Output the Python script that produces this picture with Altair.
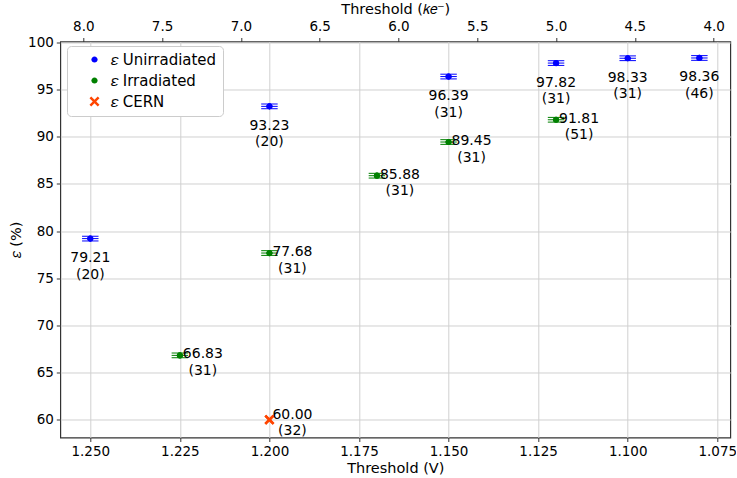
import altair as alt
import pandas as pd

# Efficiency vs. discriminator threshold, three sample groups
unirr_v = [1.250, 1.200, 1.150, 1.120, 1.100, 1.080]
unirr_eff = [79.21, 93.23, 96.39, 97.82, 98.33, 98.36]
unirr_n = [20, 20, 31, 31, 31, 46]

irr_v = [1.225, 1.200, 1.170, 1.150, 1.120]
irr_eff = [66.83, 77.68, 85.88, 89.45, 91.81]
irr_n = [31, 31, 31, 31, 51]

cern_v = [1.200]
cern_eff = [60.00]
cern_n = [32]

v_err = 0.0023
eff_err = 0.25

v_ticks = [1.250, 1.225, 1.200, 1.175, 1.150, 1.125, 1.100, 1.075]
eff_ticks = [60, 65, 70, 75, 80, 85, 90, 95, 100]
ke_ticks = [8.0, 7.5, 7.0, 6.5, 6.0, 5.5, 5.0, 4.5, 4.0]

S_UNIRR = "𝜀 Unirradiated"
S_IRR = "𝜀 Irradiated"
S_CERN = "𝜀 CERN"
series_order = [S_UNIRR, S_IRR, S_CERN]
series_colors = ["#0000ff", "#008000", "#ff4500"]

# marker glyphs in the unit square: small dot and a filled "x"
DOT_PATH = "M0.62,0A0.62,0.62,0,1,1,-0.62,0A0.62,0.62,0,1,1,0.62,0Z"
X_PATH = ("M-0.65,-1L0,-0.35L0.65,-1L1,-0.65L0.35,0L1,0.65L0.65,1L0,0.35"
          "L-0.65,1L-1,0.65L-0.35,0L-1,-0.65Z")

rows = []
for name, vs, effs, ns in [(S_UNIRR, unirr_v, unirr_eff, unirr_n),
                           (S_IRR, irr_v, irr_eff, irr_n),
                           (S_CERN, cern_v, cern_eff, cern_n)]:
    for v, e, n in zip(vs, effs, ns):
        rows.append({
            "series": name, "v": v, "eff": e, "n": n,
            "label": f"{e:.2f}\n({n})",
            "lo": v + v_err, "hi": v - v_err,
            "ylo": e - eff_err, "yhi": e + eff_err,
        })
df = pd.DataFrame(rows)

FONT = "DejaVu Sans"

x_scale = alt.Scale(domain=[1.25837, 1.07137], nice=False, zero=False)
y_scale = alt.Scale(domain=[58.125, 100.106], nice=False, zero=False)
color_scale = alt.Scale(domain=series_order, range=series_colors)
shape_scale = alt.Scale(domain=series_order, range=[DOT_PATH, DOT_PATH, X_PATH])

x_enc = alt.X("v:Q", scale=x_scale,
              axis=alt.Axis(values=v_ticks, format=".3f", title="Threshold (V)",
                            grid=True, orient="bottom"))
y_enc = alt.Y("eff:Q", scale=y_scale,
              axis=alt.Axis(values=eff_ticks, format="d", title="𝜀 (%)", grid=True))
color_nolegend = alt.Color("series:N", scale=color_scale, legend=None)

base = alt.Chart(df)
with_err = base.transform_filter(alt.datum.series != S_CERN)

# markers carrying the legend (drawn again on top of the error bars below)
points_legend = base.mark_point(filled=True, opacity=1, size=100).encode(
    x=x_enc, y=y_enc,
    color=alt.Color("series:N", scale=color_scale,
                    legend=alt.Legend(title=None, orient="none",
                                      legendX=6.7, legendY=4.5)),
    shape=alt.Shape("series:N", scale=shape_scale),
)

# horizontal error bars with short caps above and below
err_x = with_err.mark_rule(strokeWidth=1).encode(
    x=alt.X("lo:Q", scale=x_scale), x2="hi:Q",
    y=alt.Y("eff:Q", scale=y_scale), color=color_nolegend)
cap_lo = with_err.mark_rule(strokeWidth=1).encode(
    x=alt.X("lo:Q", scale=x_scale), x2="hi:Q",
    y=alt.Y("ylo:Q", scale=y_scale), color=color_nolegend)
cap_hi = with_err.mark_rule(strokeWidth=1).encode(
    x=alt.X("lo:Q", scale=x_scale), x2="hi:Q",
    y=alt.Y("yhi:Q", scale=y_scale), color=color_nolegend)

points_top = base.mark_point(filled=True, opacity=1, size=100).encode(
    x=x_enc, y=y_enc, color=color_nolegend,
    shape=alt.Shape("series:N", scale=shape_scale, legend=None),
)

text_common = dict(font=FONT, fontSize=14, lineBreak="\n", lineHeight=16.5,
                   color="black", baseline="middle", align="center")
labels_unirr = base.transform_filter(alt.datum.series == S_UNIRR).mark_text(
    dy=19.5, **text_common).encode(x=x_enc, y=y_enc, text="label:N")
labels_irr = base.transform_filter(alt.datum.series == S_IRR).mark_text(
    dx=23, dy=-1, **text_common).encode(x=x_enc, y=y_enc, text="label:N")
labels_cern = base.transform_filter(alt.datum.series == S_CERN).mark_text(
    dx=23, dy=-5, **text_common).encode(x=x_enc, y=y_enc, text="label:N")

main = alt.layer(points_legend, err_x, cap_lo, cap_hi, points_top,
                 labels_unirr, labels_irr, labels_cern)

# secondary threshold scale in electrons along the top edge
top_axis = alt.Chart(pd.DataFrame({"ke": ke_ticks})).mark_point(opacity=0).encode(
    x=alt.X("ke:Q",
            scale=alt.Scale(domain=[8.146, 3.894], nice=False, zero=False),
            axis=alt.Axis(orient="top", values=ke_ticks, format=".1f",
                          title="Threshold (𝑘𝑒⁻)", grid=False))
)

chart = alt.layer(main, top_axis).resolve_scale(x="independent").properties(
    width=670, height=396,
    autosize=alt.AutoSizeParams(type="none"),
    padding={"left": 60.3, "top": 41.5, "right": 6, "bottom": 40},
).configure_view(
    stroke="#333333", strokeWidth=1.2
).configure_axis(
    labelFont=FONT, titleFont=FONT, labelFontSize=13.5, titleFontSize=14.5,
    labelColor="black", titleColor="black", titleFontWeight="normal",
    tickColor="#333333", tickSize=4, domain=False,
    gridColor="#d0d0d0", gridWidth=1, labelPadding=3,
).configure_axisBottom(titlePadding=3.5).configure_axisLeft(titlePadding=4).configure_axisTop(
    titlePadding=3, labelPadding=4
).configure_legend(
    labelFont=FONT, labelFontSize=15, labelColor="black",
    strokeColor="#cccccc", cornerRadius=4, fillColor="white",
    padding=6, rowPadding=5, symbolOffset=14, labelOffset=9,
    symbolSize=100, symbolStrokeWidth=0,
)

chart.save("out.html", embed_options={"renderer": "svg", "actions": False})
